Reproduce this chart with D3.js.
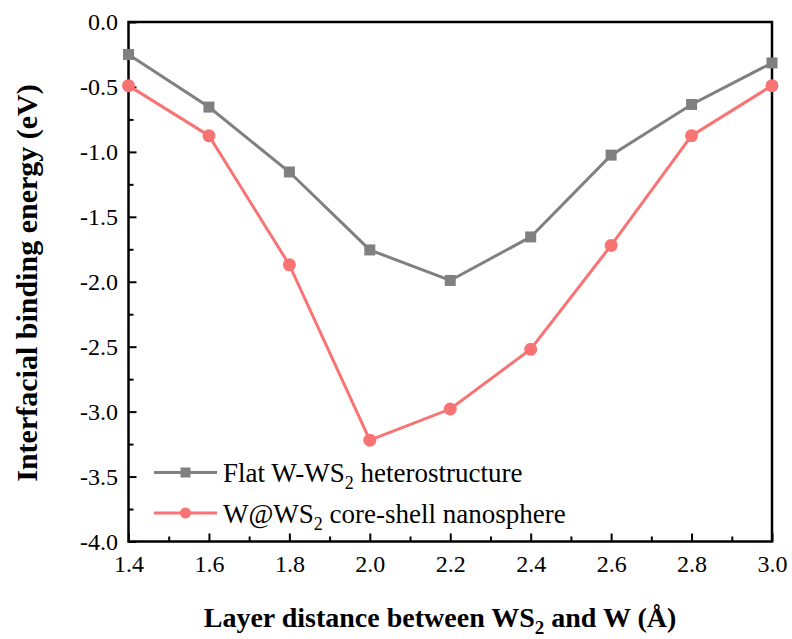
<!DOCTYPE html>
<html>
<head>
<meta charset="utf-8">
<script src="https://cdn.jsdelivr.net/npm/d3@7"></script>
<style>
  body { margin: 0; background: #fff; }
  text { font-family: "Liberation Serif", "Times New Roman", serif; }
</style>
</head>
<body>
<svg id="chart" width="792" height="639"></svg>
<script>
const distances = [1.4, 1.6, 1.8, 2.0, 2.2, 2.4, 2.6, 2.8, 3.0];
const flatEnergy = [-0.25, -0.655, -1.155, -1.755, -1.99, -1.655, -1.025, -0.635, -0.315];
const shellEnergy = [-0.49, -0.875, -1.87, -3.22, -2.98, -2.52, -1.72, -0.875, -0.49];
const xTicks = [1.4, 1.6, 1.8, 2.0, 2.2, 2.4, 2.6, 2.8, 3.0];
const yTicks = [0.0, -0.5, -1.0, -1.5, -2.0, -2.5, -3.0, -3.5, -4.0];

const svg = d3.select("#chart");
const plotL = 128.5, plotR = 772, plotT = 22, plotB = 541.5;
const serif = "'Liberation Serif', 'Times New Roman', serif";

const x = d3.scaleLinear().domain([1.4, 3.0]).range([plotL, plotR]);
const y = d3.scaleLinear().domain([-4.0, 0.0]).range([plotB, plotT]);

const grayCol = "#808080";
const redCol = "#f87373";

// plain hyphen instead of d3's unicode minus
let fmt = d => d.toFixed(1);

// minor ticks
let xMinor = d3.range(1.5, 3.0, 0.2);
let yMinor = d3.range(-3.75, 0, 0.5);

// x axis (ticks inward)
svg.append("g")
  .attr("transform", "translate(0," + plotB + ")")
  .call(d3.axisBottom(x).tickValues(xTicks).tickFormat(fmt).tickSize(-8).tickPadding(13))
  .call(g => g.select(".domain").remove())
  .call(g => g.selectAll("line").attr("stroke-width", 2))
  .call(g => g.selectAll("text").attr("font-size", 24).attr("font-family", serif).attr("fill", "#000"));

svg.append("g")
  .attr("transform", "translate(0," + plotB + ")")
  .call(d3.axisBottom(x).tickValues(xMinor).tickFormat("").tickSize(-5))
  .call(g => g.select(".domain").remove())
  .call(g => g.selectAll("line").attr("stroke-width", 2));

// y axis
svg.append("g")
  .attr("transform", "translate(" + plotL + ",0)")
  .call(d3.axisLeft(y).tickValues(yTicks).tickFormat(fmt).tickSize(-8).tickPadding(10.5))
  .call(g => g.select(".domain").remove())
  .call(g => g.selectAll("line").attr("stroke-width", 2))
  .call(g => g.selectAll("text").attr("font-size", 24).attr("font-family", serif).attr("fill", "#000"));

svg.append("g")
  .attr("transform", "translate(" + plotL + ",0)")
  .call(d3.axisLeft(y).tickValues(yMinor).tickFormat("").tickSize(-5))
  .call(g => g.select(".domain").remove())
  .call(g => g.selectAll("line").attr("stroke-width", 2));

// frame
svg.append("rect")
  .attr("x", plotL).attr("y", plotT)
  .attr("width", plotR - plotL).attr("height", plotB - plotT)
  .attr("fill", "none").attr("stroke", "#000").attr("stroke-width", 2.5);

const line = d3.line().x((d, i) => x(distances[i])).y(d => y(d));

// flat series
svg.append("path").datum(flatEnergy)
  .attr("d", line).attr("fill", "none").attr("stroke", grayCol).attr("stroke-width", 3);
svg.selectAll(".sq").data(flatEnergy).enter().append("rect")
  .attr("x", (d, i) => x(distances[i]) - 5.5)
  .attr("y", d => y(d) - 5.5)
  .attr("width", 11).attr("height", 11)
  .attr("fill", grayCol);

// core-shell series
svg.append("path").datum(shellEnergy)
  .attr("d", line).attr("fill", "none").attr("stroke", redCol).attr("stroke-width", 3);
svg.selectAll(".dot").data(shellEnergy).enter().append("circle")
  .attr("cx", (d, i) => x(distances[i]))
  .attr("cy", d => y(d))
  .attr("r", 6.5)
  .attr("fill", redCol);

// legend
let legend = svg.append("g");
let items = [
  {col: grayCol, shape: "sq", pre: "Flat W-WS", post: " heterostructure", y: 472.5},
  {col: redCol, shape: "dot", pre: "W@WS", post: " core-shell nanosphere", y: 513}
];
items.forEach(it => {
  legend.append("line").attr("x1", 154).attr("x2", 217).attr("y1", it.y).attr("y2", it.y)
    .attr("stroke", it.col).attr("stroke-width", 3);
  if (it.shape == "sq") {
    legend.append("rect").attr("x", 180.5).attr("y", it.y - 5).attr("width", 10).attr("height", 10).attr("fill", it.col);
  } else {
    legend.append("circle").attr("cx", 185.5).attr("cy", it.y).attr("r", 5.5).attr("fill", it.col);
  }
  let t = legend.append("text").attr("x", 223).attr("y", it.y + 9.5).attr("font-size", 27).attr("fill", "#000");
  t.append("tspan").text(it.pre);
  t.append("tspan").attr("font-size", 18).attr("dy", 7).text("2");
  t.append("tspan").attr("dy", -7).text(it.post);
});

// axis titles
let xt = svg.append("text").attr("x", 440).attr("y", 627).attr("text-anchor", "middle")
  .attr("font-size", 28).attr("font-weight", "bold");
xt.append("tspan").text("Layer distance between WS");
xt.append("tspan").attr("font-size", 19).attr("dy", 7).text("2");
xt.append("tspan").attr("dy", -7).text(" and W (Å)");

svg.append("text")
  .attr("transform", "translate(37,283) rotate(-90)")
  .attr("text-anchor", "middle")
  .attr("font-size", 30).attr("font-weight", "bold")
  .text("Interfacial binding energy (eV)");
</script>
</body>
</html>
